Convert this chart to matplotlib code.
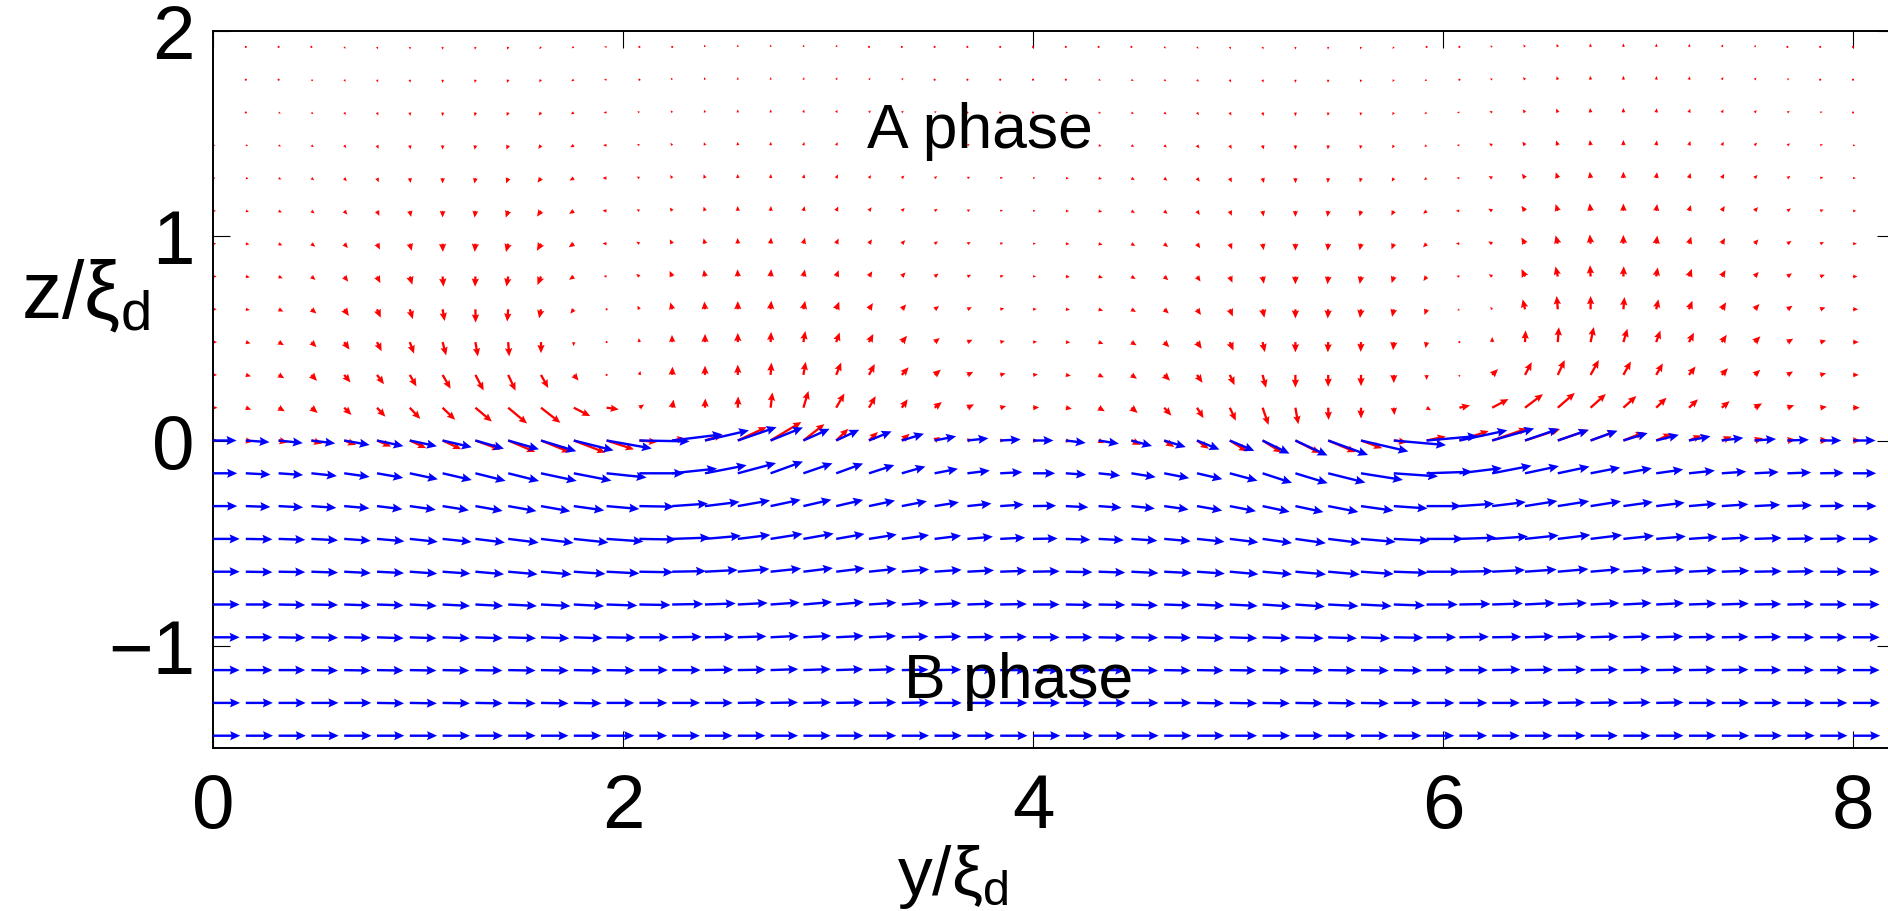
import numpy as np
import matplotlib
matplotlib.use("Agg")
import matplotlib.pyplot as plt

plt.rcParams["font.family"] = "Liberation Sans"
plt.rcParams["mathtext.fontset"] = "custom"
plt.rcParams["mathtext.rm"] = "Liberation Sans"
plt.rcParams["mathtext.it"] = "Liberation Sans"
plt.rcParams["mathtext.default"] = "regular"

# grid columns along y/xi_d (51 points, spacing 0.16)
y_cols = np.linspace(0, 8, 51)
# rows along z/xi_d
z_red = [0.0, 0.16, 0.32, 0.48, 0.64, 0.80, 0.96, 1.12, 1.28, 1.44, 1.60, 1.76, 1.92]
z_blue = [0.0, -0.16, -0.32, -0.48, -0.64, -0.80, -0.96, -1.12, -1.28, -1.44]

# ---- A phase (red): direction in degrees, length in 0.01 xi_d ----
red_ang_0 = [0, -10, -12, -16, -20, -23, -25, -25, -20, -23, -22, -21, -18,
             -5, 9, 18, 25, 31, 38, 44, 44, 41, 32, 15, 0, -5,
             -15, -25, -25, -33, -35, -32, -32, -27, -23, -20, -8, 12, 18,
             19, 18, 19, 20, 22, 24, 22, 22, 16, 7, 2, 0]
red_len_0 = [2.5, 3.5, 4.5, 5.5, 6.2, 7.5, 8.8, 10, 12.9, 14.3, 15.3, 16.5, 14,
             8.7, 6.5, 9, 15.5, 17.5, 13, 8.2, 6, 5, 3.2, 2.5, 2.3, 2.6,
             2.5, 3, 5, 5.8, 7, 10, 11, 13.5, 14.5, 11, 6.5, 9.5, 15,
             18, 18, 16, 13, 10.8, 8.2, 6.6, 5.2, 4.2, 4, 4, 3.7]
red_ang_1 = [0, -20, -30, -40, -45, -47, -47, -44, -40, -40, -38, -27, -8,
             35, 80, 88, 88, 83, 73, 60, 60, 55, 38, 27, 15, 3,
             -10, -30, -40, -48, -58, -65, -71, -80, -88, -90, -85, -30, 12,
             28, 37, 41, 42, 42, 44, 43, 40, 30, 20, 8, 0]
red_len_1 = [2.2, 2.8, 3.5, 4, 5, 6, 7.5, 8.5, 10.5, 12, 12, 9, 6,
             2.8, 4, 4.5, 5.5, 7.5, 8.5, 8, 6.5, 5, 4.5, 3.6, 3, 3,
             3, 3.5, 4, 5.2, 6, 7, 8.9, 8.2, 6, 5.3, 3.6, 2.5, 5.3,
             9, 11, 11, 10, 8.5, 7, 6, 5, 4.2, 3.5, 3.3, 3.3]
red_ang_2 = [0, -15, -30, -47, -50, -53, -60, -60, -62, -65, -61, -50, -100,
             75, 88, 90, 90, 86, 80, 68, 62, 48, 40, 28, 15, 5,
             -10, -25, -35, -45, -55, -65, -75, -90, -90, -90, -90, -90, -95,
             45, 62, 65, 61, 61, 60, 52, 48, 42, 32, 15, 0]
red_len_2 = [2, 2.6, 3.2, 4, 4.8, 5.7, 6.5, 7.8, 8.6, 8.5, 7.3, 3.6, 1,
             2, 4, 4.5, 5, 6, 6.5, 6.5, 6, 5, 4, 3.2, 2.7, 2.4,
             2.5, 2.8, 3.3, 4, 4.7, 5.5, 6.5, 6.2, 5.8, 5.5, 4, 2.5, 1.2,
             4, 7, 8, 8.3, 7.5, 6.5, 5.2, 4.4, 3.7, 3.2, 3, 2.8]
red_ang_3 = [0, -15, -30, -45, -55, -63, -70, -75, -80, -86, -90, -95, -120,
             100, 92, 90, 90, 87, 80, 70, 62, 50, 38, 25, 15, 5,
             -5, -20, -33, -45, -55, -67, -77, -90, -92, -92, -95, -100, -100,
             90, 87, 86, 78, 73, 70, 62, 56, 45, 30, 15, 0]
red_len_3 = [2, 2.4, 3, 3.5, 4.5, 5, 6, 6.7, 7.1, 7, 5.4, 2, 0.8,
             2, 3.5, 4, 4.5, 5, 5.5, 5, 4.5, 4, 3.2, 2.7, 2.3, 2,
             2.2, 2.5, 3, 3.5, 4, 4.5, 5, 5, 5, 4.8, 4, 3, 1,
             2.5, 5.7, 7.3, 7.5, 6.8, 6, 5.2, 4.3, 4, 3.3, 3, 2.8]
red_ang_4 = [0, -10, -25, -40, -55, -66, -73, -80, -89, -95, -102, -128, 150,
             120, 105, 95, 90, 85, 78, 68, 58, 48, 35, 25, 15, 5,
             -5, -18, -30, -42, -55, -67, -78, -90, -93, -97, -103, -110, -150,
             130, 103, 95, 90, 85, 77, 68, 58, 48, 35, 20, 0]
red_len_4 = [1.8, 2, 2.6, 3.2, 4, 4.5, 5, 5.8, 6.5, 6, 4.5, 2.7, 1,
             2, 3.5, 3.8, 4, 4.2, 4.2, 4, 3.6, 3.2, 2.7, 2.4, 2, 1.8,
             2, 2.3, 2.6, 3, 3.4, 3.8, 4.2, 4.5, 4.5, 4.3, 3.8, 3, 1.2,
             1.5, 5, 6.5, 6.5, 6, 5, 4.5, 4, 3.5, 3, 2.7, 2.5]
red_ang_5 = [0, -10, -25, -40, -52, -63, -73, -85, -92, -100, -112, -145, 170,
             140, 115, 100, 92, 85, 78, 68, 58, 48, 37, 25, 15, 5,
             -5, -17, -30, -42, -55, -67, -80, -90, -95, -100, -108, -125, 170,
             145, 115, 103, 93, 88, 80, 70, 60, 48, 35, 20, 0]
red_len_5 = [1.8, 2, 2.2, 2.6, 3.2, 3.6, 4.2, 5, 5, 5, 4.5, 2.8, 1.5,
             2, 3, 3.3, 3.5, 3.6, 3.5, 3.3, 3, 2.7, 2.4, 2, 1.8, 1.5,
             2, 2.2, 2.4, 2.7, 3, 3.3, 3.6, 3.8, 3.8, 3.7, 3.4, 2.7, 1.5,
             2, 4, 5, 5.5, 5, 4.5, 4, 3.6, 3, 2.7, 2.4, 2.2]
red_ang_6 = [0, -10, -25, -38, -50, -63, -75, -88, -95, -105, -120, -145, 175,
             145, 120, 105, 92, 85, 75, 65, 55, 45, 35, 25, 15, 5,
             -5, -17, -30, -42, -55, -68, -80, -90, -95, -102, -112, -135, 175,
             150, 120, 105, 95, 90, 82, 72, 60, 48, 35, 20, 0]
red_len_6 = [1.6, 1.8, 2, 2.4, 2.8, 3.2, 3.6, 4, 4, 4.2, 4, 3, 2,
             1.8, 2.4, 2.7, 2.8, 3, 3, 2.8, 2.6, 2.4, 2, 1.8, 1.6, 1.4,
             1.8, 2, 2.2, 2.5, 2.7, 3, 3.2, 3.4, 3.4, 3.3, 3, 2.5, 1.7,
             2.2, 3.5, 4.2, 4.5, 4.3, 4, 3.6, 3.2, 2.8, 2.4, 2, 1.9]
red_ang_7 = [0, -12, -25, -38, -50, -65, -78, -90, -97, -110, -125, -148, 175,
             150, 125, 108, 92, 85, 75, 65, 55, 45, 35, 25, 15, 5,
             -5, -17, -30, -43, -56, -68, -80, -90, -97, -105, -118, -140, 178,
             150, 125, 108, 97, 90, 82, 72, 60, 48, 35, 20, 0]
red_len_7 = [1.5, 1.6, 1.8, 2, 2.4, 2.7, 3, 3.2, 3.3, 3.5, 3.4, 2.7, 2,
             1.6, 2, 2.2, 2.4, 2.4, 2.4, 2.4, 2.2, 2, 1.8, 1.6, 1.4, 1.3,
             1.6, 1.8, 2, 2.2, 2.4, 2.6, 2.8, 2.9, 2.9, 2.8, 2.6, 2.2, 1.7,
             2.2, 3, 3.5, 3.7, 3.6, 3.4, 3, 2.8, 2.5, 2.1, 1.8, 1.6]
# far from the interface the direction hardly changes with height
red_ang_far = [0, -12, -25, -38, -52, -67, -80, -90, -100, -112, -128, -150, 178,
               150, 125, 110, 92, 85, 75, 65, 55, 45, 35, 25, 15, 5,
               -5, -15, -30, -40, -52, -65, -75, -88, -95, -105, -120, -145, 175,
               150, 125, 110, 98, 90, 82, 72, 60, 48, 35, 20, 0]
red_len_8 = [1.3, 1.4, 1.5, 1.7, 2, 2.2, 2.4, 2.6, 2.7, 2.8, 2.8, 2.4, 2,
             1.5, 1.8, 2, 2, 2, 2, 2, 1.8, 1.8, 1.6, 1.5, 1.4, 1.2,
             1.5, 1.7, 1.9, 2, 2.2, 2.3, 2.5, 2.5, 2.3, 2.2, 2, 1.6, 1.4,
             2, 2.6, 3, 3.1, 3.1, 2.9, 2.6, 2.4, 2.1, 1.8, 1.6, 1.4]
red_len_9 = [1.2, 1.2, 1.3, 1.5, 1.7, 1.9, 2, 2.1, 2.2, 2.3, 2.2, 2, 1.7,
             1.3, 1.5, 1.6, 1.7, 1.7, 1.7, 1.7, 1.6, 1.5, 1.4, 1.3, 1.2, 1.1,
             1.3, 1.5, 1.6, 1.7, 1.9, 2, 2.1, 2.1, 2, 1.9, 1.7, 1.4, 1.3,
             1.8, 2.2, 2.5, 2.6, 2.6, 2.4, 2.2, 2, 1.8, 1.6, 1.4, 1.2]
red_len_10 = [1.1, 1.1, 1.2, 1.3, 1.5, 1.6, 1.7, 1.8, 1.9, 1.9, 1.9, 1.7, 1.5,
              1.2, 1.3, 1.4, 1.5, 1.5, 1.5, 1.5, 1.4, 1.3, 1.2, 1.1, 1.1, 1,
              1.2, 1.3, 1.4, 1.5, 1.6, 1.7, 1.8, 1.8, 1.7, 1.6, 1.5, 1.3, 1.2,
              1.5, 1.9, 2.1, 2.2, 2.2, 2.1, 1.9, 1.7, 1.6, 1.4, 1.2, 1.1]
red_len_11 = [1, 1, 1.1, 1.2, 1.3, 1.4, 1.5, 1.6, 1.6, 1.7, 1.6, 1.5, 1.3,
              1.1, 1.2, 1.3, 1.3, 1.3, 1.3, 1.3, 1.2, 1.2, 1.1, 1, 1, 0.9,
              1.1, 1.2, 1.3, 1.3, 1.4, 1.5, 1.5, 1.5, 1.5, 1.4, 1.3, 1.2, 1.1,
              1.3, 1.6, 1.8, 1.9, 1.9, 1.8, 1.7, 1.5, 1.4, 1.2, 1.1, 1]
red_len_12 = [0.9, 0.9, 1, 1.1, 1.2, 1.3, 1.3, 1.4, 1.4, 1.5, 1.4, 1.3, 1.2,
              1, 1.1, 1.2, 1.2, 1.2, 1.2, 1.2, 1.1, 1.1, 1, 1, 0.9, 0.9,
              1, 1.1, 1.1, 1.2, 1.2, 1.3, 1.3, 1.3, 1.3, 1.3, 1.2, 1.1, 1,
              1.2, 1.4, 1.6, 1.7, 1.7, 1.6, 1.5, 1.4, 1.2, 1.1, 1, 0.9]

# ---- B phase (blue) ----
blue_ang_0 = [0, -4, -6, -7, -10, -12, -12, -13, -16, -16, -17, -14, -10,
              -1, 7, 13, 19, 22, 24, 25, 22, 17, 11, 6, 3, 0,
              -7, -9, -15, -17, -22, -23, -26, -25, -20, -13, -5, 5, 12,
              16, 19, 19, 20, 17, 14, 11, 7, 4, 2, 0, 0]
blue_len_0 = [11.5, 11.6, 11.9, 11.7, 12.6, 13.2, 13.5, 14.6, 14.5, 15.6, 18, 20, 22.4,
              24.5, 24.7, 22, 20, 17, 14, 12.4, 11.9, 11.3, 10.7, 10.3, 10, 10,
              9.8, 10, 10.4, 11, 11.8, 13, 14.6, 17.3, 20.7, 23.7, 25.6, 25, 23.9,
              21.3, 17.5, 15.9, 14, 12.4, 11.4, 10.7, 10.6, 10.5, 10.5, 10.3, 11]
blue_ang_1 = [0, -3, -4, -6, -8, -10, -12, -13, -14, -14, -12, -11, -6,
              0, 6, 11, 15, 20, 19, 20, 18, 16, 11, 7, 3, 0,
              -4, -6, -9, -11, -13, -15, -18, -17, -14, -9, -4, 2, 7,
              11, 12, 12, 11, 10, 8, 6, 4, 3, 2, 1, 0]
blue_len_1 = [11.8, 12.1, 12, 12.5, 12.5, 13, 14, 14.6, 15.2, 15.5, 17.8, 18.7, 19.6,
              21.8, 22, 20.7, 19.3, 16.8, 15, 14, 13, 12, 11.6, 11, 10.8, 10.8,
              10, 10.6, 12, 12.4, 12.7, 14, 15.1, 16.5, 18.7, 20.7, 21.6, 22.3, 20.9,
              19.5, 16.9, 15.8, 14.7, 14.1, 13.3, 12.7, 12, 11.8, 11.6, 11.5, 11.3]
blue_ang_2 = [0, -2, -3, -4, -5, -7, -8, -9, -10, -10, -10, -8, -5,
              -1, 4, 7, 10, 12, 13, 13, 12, 11, 9, 6, 4, 1,
              -3, -4, -6, -8, -10, -11, -12, -12, -11, -8, -4, 0, 4,
              7, 9, 9, 9, 8, 7, 5, 4, 3, 2, 1, 0]
blue_len_2 = [11.8, 12, 12, 12.2, 12.3, 12.5, 12.8, 13, 13.5, 14, 14.5, 15, 16,
              17, 17.5, 17, 16, 15, 14, 13.5, 13, 12.5, 12, 11.8, 11.5, 11.3,
              11, 11.2, 11.5, 12, 12.5, 13, 13.5, 14, 15, 16, 16.5, 17, 17,
              16.5, 16, 15.5, 15, 14.5, 14, 13.5, 13, 12.5, 12, 11.8, 11.5]
blue_ang_3 = [0, -1, -2, -3, -4, -5, -6, -6, -7, -7, -7, -6, -4,
              -1, 2, 5, 7, 9, 10, 10, 9, 8, 7, 5, 3, 1,
              -2, -3, -4, -5, -6, -7, -8, -8, -7, -5, -3, 0, 2,
              4, 6, 7, 7, 6, 5, 4, 3, 2, 1, 1, 0]
blue_len_3 = [13, 13, 13, 13, 13, 13.4, 13.7, 14.2, 14.5, 15, 16, 17, 18,
              18, 18.5, 17.6, 16, 15.8, 15, 14, 13.7, 13.4, 13, 12.5, 12.2, 12,
              12, 12.3, 12.7, 13, 13.5, 14, 14.5, 15, 16, 17, 17.5, 18, 18,
              17.5, 16.5, 16, 15.5, 15, 14.5, 14, 13.5, 13.2, 13, 12.8, 12.5]
blue_ang_4 = [0, -1, -1, -2, -3, -3, -4, -4, -5, -5, -5, -4, -3,
              -1, 1, 3, 5, 6, 7, 7, 6, 5, 4, 3, 2, 1,
              -1, -2, -3, -3, -4, -5, -5, -5, -5, -4, -2, 0, 1,
              3, 4, 5, 5, 4, 4, 3, 2, 1, 1, 0, 0]
blue_len_4 = [13, 13, 13, 13, 13, 13.2, 13.4, 13.6, 14, 14.4, 15, 15.5, 16,
              16.5, 16.5, 16, 15.5, 15, 14.5, 14, 13.6, 13.4, 13.2, 13, 13, 13,
              13, 13, 13.2, 13.4, 13.6, 14, 14.4, 15, 15.5, 16, 16.5, 16.5, 16.5,
              16, 15.5, 15, 14.5, 14, 13.8, 13.6, 13.4, 13.2, 13, 13, 13]
blue_ang_5 = [0, 0, -1, -1, -2, -2, -3, -3, -3, -3, -3, -3, -2,
              -1, 1, 2, 3, 4, 5, 5, 4, 4, 3, 2, 1, 0,
              -1, -1, -2, -2, -3, -3, -4, -4, -3, -3, -2, 0, 1,
              2, 3, 3, 3, 3, 3, 2, 2, 1, 1, 0, 0]
blue_len_5 = [13, 13, 13, 13, 13, 13, 13.2, 13.4, 13.6, 14, 14.4, 14.8, 15,
              15.2, 15.2, 15, 14.6, 14.2, 14, 13.6, 13.4, 13.2, 13, 13, 13, 13,
              13, 13, 13, 13.2, 13.4, 13.6, 14, 14.4, 14.8, 15, 15.2, 15.2, 15.2,
              15, 14.6, 14.2, 14, 13.8, 13.6, 13.4, 13.2, 13, 13, 13, 13]
blue_ang_6 = [0, 0, -1, -1, -1, -2, -2, -2, -2, -2, -2, -2, -1,
              0, 1, 1, 2, 3, 3, 3, 3, 2, 2, 1, 1, 0,
              0, -1, -1, -1, -2, -2, -2, -2, -2, -2, -1, 0, 1,
              1, 2, 2, 2, 2, 2, 1, 1, 1, 0, 0, 0]
blue_len_6 = [13, 13, 13, 13, 13, 13, 13, 13.2, 13.4, 13.6, 13.8, 14, 14.2,
              14.4, 14.4, 14.2, 14, 13.8, 13.6, 13.4, 13.2, 13, 13, 13, 13, 13,
              13, 13, 13, 13, 13.2, 13.4, 13.6, 13.8, 14, 14.2, 14.4, 14.4, 14.4,
              14.2, 14, 13.8, 13.6, 13.4, 13.2, 13, 13, 13, 13, 13, 13]
blue_ang_7 = [0, 0, 0, -1, -1, -1, -1, -1, -1, -1, -1, -1, -1,
              0, 0, 1, 1, 2, 2, 2, 2, 1, 1, 1, 0, 0,
              0, 0, -1, -1, -1, -1, -1, -1, -1, -1, -1, 0, 0,
              1, 1, 1, 1, 1, 1, 1, 1, 0, 0, 0, 0]
blue_len_7 = [13, 13, 13, 13, 13, 13, 13, 13, 13.2, 13.4, 13.5, 13.6, 13.8,
              13.9, 13.9, 13.8, 13.6, 13.5, 13.4, 13.2, 13, 13, 13, 13, 13, 13,
              13, 13, 13, 13, 13, 13, 13.2, 13.4, 13.5, 13.6, 13.8, 13.9, 13.9,
              13.8, 13.6, 13.5, 13.4, 13.2, 13, 13, 13, 13, 13, 13, 13]
blue_ang_8 = [0, 0, 0, 0, 0, -1, -1, -1, -1, -1, -1, -1, 0,
              0, 0, 0, 1, 1, 1, 1, 1, 1, 0, 0, 0, 0,
              0, 0, 0, 0, -1, -1, -1, -1, -1, -1, 0, 0, 0,
              0, 1, 1, 1, 1, 1, 0, 0, 0, 0, 0, 0]
blue_len_8 = [13.2, 13.2, 13.2, 13.2, 13.2, 13.2, 13.2, 13.3, 13.3, 13.4, 13.4, 13.5, 13.5,
              13.6, 13.6, 13.5, 13.5, 13.4, 13.4, 13.3, 13.3, 13.2, 13.2, 13.2, 13.2, 13.2,
              13.2, 13.2, 13.2, 13.2, 13.2, 13.3, 13.3, 13.4, 13.4, 13.5, 13.5, 13.6, 13.6,
              13.5, 13.5, 13.4, 13.4, 13.3, 13.3, 13.2, 13.2, 13.2, 13.2, 13.2, 13.2]
blue_ang_9 = [0, 0, 0, 0, 0, 0, 0, 0, 0, 0, 0, 0, 0,
              0, 0, 0, 0, 0, 0, 0, 0, 0, 0, 0, 0, 0,
              0, 0, 0, 0, 0, 0, 0, 0, 0, 0, 0, 0, 0,
              0, 0, 0, 0, 0, 0, 0, 0, 0, 0, 0, 0]
blue_len_9 = [13.3, 13.3, 13.3, 13.3, 13.3, 13.3, 13.3, 13.3, 13.4, 13.4, 13.4, 13.4, 13.5,
              13.5, 13.5, 13.4, 13.4, 13.4, 13.3, 13.3, 13.3, 13.3, 13.3, 13.3, 13.3, 13.3,
              13.3, 13.3, 13.3, 13.3, 13.3, 13.3, 13.4, 13.4, 13.4, 13.4, 13.5, 13.5, 13.5,
              13.4, 13.4, 13.4, 13.3, 13.3, 13.3, 13.3, 13.3, 13.3, 13.3, 13.3, 13.3]

red_ang = [red_ang_0, red_ang_1, red_ang_2, red_ang_3, red_ang_4, red_ang_5, red_ang_6,
           red_ang_7, red_ang_far, red_ang_far, red_ang_far, red_ang_far, red_ang_far]
red_len = [red_len_0, red_len_1, red_len_2, red_len_3, red_len_4, red_len_5, red_len_6,
           red_len_7, red_len_8, red_len_9, red_len_10, red_len_11, red_len_12]
blue_ang = [blue_ang_0, blue_ang_1, blue_ang_2, blue_ang_3, blue_ang_4,
            blue_ang_5, blue_ang_6, blue_ang_7, blue_ang_8, blue_ang_9]
blue_len = [blue_len_0, blue_len_1, blue_len_2, blue_len_3, blue_len_4,
            blue_len_5, blue_len_6, blue_len_7, blue_len_8, blue_len_9]


def components(ang, ln, rows):
    a = np.radians(np.array(ang, dtype=float))
    l = np.array(ln, dtype=float)
    Y, Z = np.meshgrid(y_cols, rows)
    return Y, Z, l * np.cos(a), l * np.sin(a)


fig = plt.figure(figsize=(18.88, 9.12), dpi=100)
ax = fig.add_axes([213 / 1888, 163 / 912, 1681 / 1888, 717.5 / 912])

Y, Z, U, V = components(red_ang, red_len, z_red)
ax.quiver(Y, Z, U, V, color=(1, 0, 0), angles="xy", scale_units="xy", scale=100,
          units="dots", width=2.3, headwidth=3.2, headlength=3.6, headaxislength=3.2,
          pivot="tail", zorder=2)
Y, Z, U, V = components(blue_ang, blue_len, z_blue)
ax.quiver(Y, Z, U, V, color=(0, 0, 1), angles="xy", scale_units="xy", scale=100,
          units="dots", width=2.4, headwidth=3.8, headlength=4.2, headaxislength=3.7,
          pivot="tail", zorder=3)

ax.text(3.19, 1.43, "A phase", fontsize=45, ha="left", va="baseline", zorder=5)
ax.text(3.37, -1.25, "B phase", fontsize=45, ha="left", va="baseline", zorder=5)

ax.set_xlim(0, 8.2)
ax.set_ylim(-1.5, 2)
ax.set_xticks([0, 2, 4, 6, 8])
ax.set_yticks([-1, 0, 1, 2])
ax.tick_params(direction="in", length=12, width=0.8, top=True, right=True,
               labelsize=55)
ax.tick_params(axis="x", pad=17)
ax.tick_params(axis="y", pad=13)
for s in ax.spines.values():
    s.set_linewidth(1.4)

ax.set_xlabel(r"y/$\xi_d$", fontsize=50)
ax.xaxis.set_label_coords(0.44, -0.226)
ax.xaxis.label.set_va("bottom")
ax.set_ylabel(r"z/$\xi_d$", fontsize=58, rotation=0, ha="center", va="center")
ax.yaxis.set_label_coords(-0.076, 0.63)

fig.savefig("out.png", dpi=100)
